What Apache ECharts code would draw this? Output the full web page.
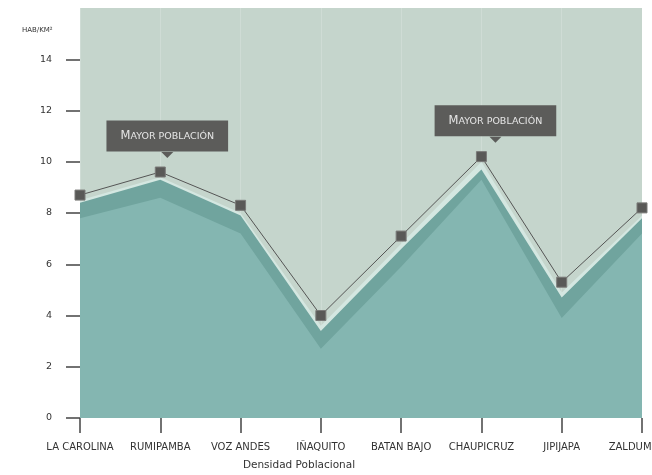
<!DOCTYPE html>
<html>
<head>
<meta charset="utf-8">
<script src="https://cdn.jsdelivr.net/npm/echarts@6/dist/echarts.min.js"></script>
<style>
  html, body { margin: 0; padding: 0; background: #fff; }
  #densidad { width: 652px; height: 475px; }
</style>
</head>
<body>
<div id="densidad"></div>
<script>
const barrios = ['LA CAROLINA', 'RUMIPAMBA', 'VOZ ANDES', 'IÑAQUITO', 'BATAN BAJO', 'CHAUPICRUZ', 'JIPIJAPA', 'ZALDUMBIDE'];
// densidad (hab/km2) - linea con marcadores
const densidad = [8.7, 9.6, 8.3, 4.0, 7.1, 10.2, 5.3, 8.2];
// capas de relleno bajo la linea
const capaClara = [8.5, 9.4, 8.0, 3.6, 6.8, 10.0, 4.9, 7.9];
const capaOscura = [8.4, 9.3, 7.9, 3.4, 6.6, 9.7, 4.7, 7.8];
const capaBase = [7.8, 8.6, 7.2, 2.7, 5.9, 9.3, 3.9, 7.2];
const yTicks = [0, 2, 4, 6, 8, 10, 12, 14];
const destacados = ['RUMIPAMBA', 'CHAUPICRUZ'];
const etiqueta = 'Mayor población';

const myChart = echarts.init(document.getElementById('densidad'));

const labelOffset = { RUMIPAMBA: 7, CHAUPICRUZ: 14 };

const lineData = densidad.map((v, i) => {
  if (destacados.indexOf(barrios[i]) === -1) return v;
  return {
    value: v,
    label: {
      show: true,
      position: 'top',
      distance: 15,
      offset: [labelOffset[barrios[i]], 0],
      backgroundColor: '#5c5c5a',
      padding: [10, 14, 9, 14],
      formatter() {
        const up = etiqueta.toUpperCase();
        return `{big|${up.charAt(0)}}{small|${up.slice(1)}}`;
      },
      rich: {
        big: { fontSize: 11.5, color: '#e6e6e6', fontFamily: 'DejaVu Sans' },
        small: { fontSize: 9.5, color: '#e6e6e6', fontFamily: 'DejaVu Sans' },
      },
    },
  };
});

const areaSerie = (data, color) => ({
  type: 'line',
  data,
  symbol: 'none',
  lineStyle: { width: 0 },
  areaStyle: { color, opacity: 1 },
  silent: true,
});

const option = {
  animation: false,
  title: {
    text: 'HAB/KM²',
    left: 17,
    top: 22,
    textStyle: { fontSize: 7, fontWeight: 'normal', color: '#333', fontFamily: 'DejaVu Sans' },
  },
  grid: {
    left: 80,
    right: 10,
    top: 8,
    bottom: 57,
    show: true,
    backgroundColor: '#c5d5cc',
    borderWidth: 0,
    outerBoundsMode: 'none',
    containLabel: false,
  },
  xAxis: {
    type: 'category',
    data: barrios,
    boundaryGap: false,
    axisLine: { show: false },
    axisTick: { show: true, length: 15, lineStyle: { color: '#444', width: 1.5 } },
    axisLabel: {
      margin: 24,
      fontSize: 10,
      color: '#333',
      fontFamily: 'DejaVu Sans',
      interval: 0,
      hideOverlap: false,
    },
    splitLine: { show: true, lineStyle: { color: 'rgba(255,255,255,0.18)', width: 1 } },
    name: 'Densidad Poblacional',
    nameLocation: 'middle',
    nameGap: 42,
    nameTextStyle: { fontSize: 10.5, color: '#333', fontFamily: 'DejaVu Sans', padding: [0, 124, 0, 0] },
  },
  yAxis: {
    type: 'value',
    min: 0,
    max: 16,
    interval: 2,
    axisLine: { show: false },
    axisTick: { show: true, length: 14, customValues: yTicks, lineStyle: { color: '#444', width: 1.5 } },
    axisLabel: { margin: 28, fontSize: 9.5, color: '#333', fontFamily: 'DejaVu Sans', customValues: yTicks },
    splitLine: { show: false },
  },
  series: [
    areaSerie(capaClara, '#d4e7e1'),
    areaSerie(capaOscura, '#70a49e'),
    areaSerie(capaBase, '#84b6b1'),
    {
      type: 'line',
      data: lineData,
      symbol: 'rect',
      symbolSize: 10,
      itemStyle: { color: '#595957', borderColor: '#7a7a78', borderWidth: 1 },
      lineStyle: { color: '#555', width: 1 },
      z: 5,
      markPoint: {
        symbol: 'triangle',
        symbolRotate: 180,
        symbolSize: [12, 6],
        itemStyle: { color: '#5c5c5a' },
        label: { show: false },
        data: destacados.map((b) => ({
          coord: [b, densidad[barrios.indexOf(b)]],
          symbolOffset: [labelOffset[b], -17],
        })),
      },
    },
  ],
};

myChart.setOption(option);
</script>
</body>
</html>
